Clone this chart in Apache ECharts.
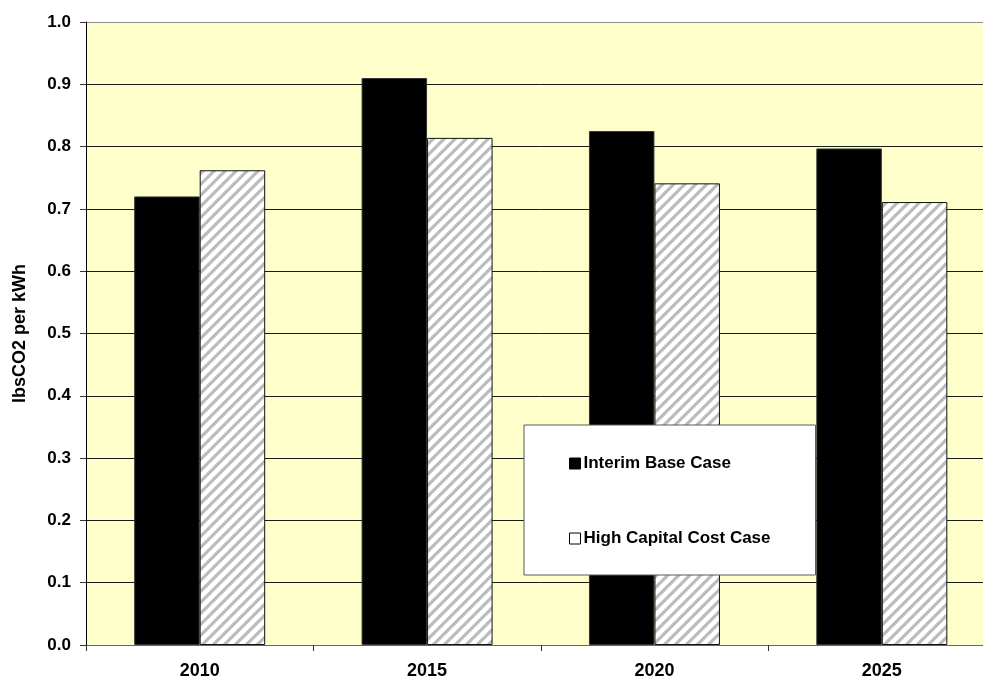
<!DOCTYPE html>
<html>
<head>
<meta charset="utf-8">
<script src="https://cdn.jsdelivr.net/npm/echarts@6/dist/echarts.min.js"></script>
<style>html,body{margin:0;padding:0;background:#fff;overflow:hidden}#c{width:1000px;height:680px}</style>
</head>
<body>
<div id="c"></div>
<script>
const categories = ['2010', '2015', '2020', '2025'];
const baseCase = [0.720, 0.910, 0.825, 0.797];
const highCapitalCase = [0.762, 0.814, 0.741, 0.711];
const seriesNames = ['Interim Base Case', 'High Capital Cost Case'];

function makeHatch() {
  const s = 11;
  const c = document.createElement('canvas');
  c.width = s; c.height = s;
  const g = c.getContext('2d');
  g.fillStyle = '#ffffff';
  g.fillRect(0, 0, s, s);
  g.strokeStyle = '#bcbcbc';
  g.lineWidth = 3.2;
  g.lineCap = 'square';
  const segs = [[-2, s + 2, s + 2, -2], [-2, 2, 2, -2], [s - 2, s + 2, s + 2, s - 2]];
  segs.forEach(function (p) { g.beginPath(); g.moveTo(p[0], p[1]); g.lineTo(p[2], p[3]); g.stroke(); });
  return c;
}

const chart = echarts.init(document.getElementById('c'));
const font = 'Arial, "Liberation Sans", sans-serif';
const splitColors = [];
for (let i = 0; i <= 10; i++) splitColors.push(i === 10 ? '#8c8c8c' : '#1a1a1a');

chart.setOption({
  animation: false,
  backgroundColor: '#ffffff',
  textStyle: { fontFamily: font },
  grid: {
    left: 86, top: 22, width: 909.5, height: 623,
    show: true, backgroundColor: '#FFFFCC', borderWidth: 0, containLabel: false
  },
  legend: {
    orient: 'vertical',
    left: 524, top: 425,
    padding: [30, 45, 28, 45],
    itemGap: 58,
    itemWidth: 11, itemHeight: 11,
    icon: 'rect',
    backgroundColor: '#ffffff',
    borderColor: '#5a5a5a', borderWidth: 1,
    textStyle: { fontFamily: font, fontWeight: 'bold', fontSize: 17, color: '#000', padding: [0, 0, 0, -2] },
    data: [
      { name: seriesNames[0], itemStyle: { color: '#000', borderColor: '#000', borderWidth: 1 } },
      { name: seriesNames[1], itemStyle: { color: '#fff', borderColor: '#000', borderWidth: 1 } }
    ]
  },
  xAxis: {
    type: 'category',
    data: categories,
    axisLine: { show: true, lineStyle: { color: '#666', width: 1 } },
    axisTick: { show: true, length: 6, lineStyle: { color: '#333' } },
    axisLabel: { fontFamily: font, fontWeight: 'bold', fontSize: 18, color: '#000', margin: 17 },
    splitLine: { show: false }
  },
  yAxis: {
    type: 'value',
    min: 0, max: 1, interval: 0.1,
    name: 'lbsCO2 per kWh',
    nameLocation: 'middle',
    nameGap: 57,
    nameRotate: 90,
    nameTextStyle: { fontFamily: font, fontWeight: 'bold', fontSize: 18, color: '#000' },
    axisLine: { show: true, lineStyle: { color: '#000', width: 1 } },
    axisTick: { show: true, length: 6, lineStyle: { color: '#333' } },
    axisLabel: {
      fontFamily: font, fontWeight: 'bold', fontSize: 17, color: '#000', margin: 15,
      formatter: function (v) { return v.toFixed(1); }
    },
    splitLine: { show: true, lineStyle: { color: splitColors, width: 1 } }
  },
  series: [
    {
      name: seriesNames[0], type: 'bar', data: baseCase,
      barWidth: 65.5, barGap: '0%',
      itemStyle: { color: '#000000', borderColor: '#333', borderWidth: 1 }
    },
    {
      name: seriesNames[1], type: 'bar', data: highCapitalCase,
      barWidth: 65.5, barGap: '0%',
      itemStyle: { color: { image: makeHatch(), repeat: 'repeat' }, borderColor: '#111', borderWidth: 1 }
    }
  ]
});
</script>
</body>
</html>
